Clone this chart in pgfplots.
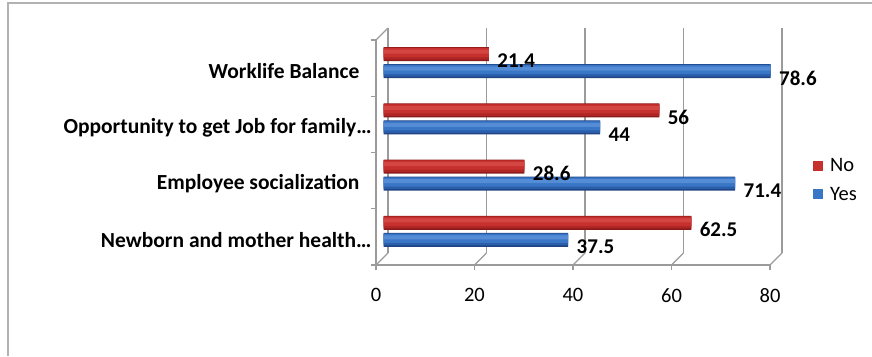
\documentclass[border=0pt]{standalone}
\usepackage{fontspec}
\setmainfont{Carlito}
\usepackage{pgfplots}
\usepackage{pgfplotstable}
\pgfplotsset{compat=1.18}
\definecolor{redA}{RGB}{140,26,26}
\definecolor{redB}{RGB}{175,38,36}
\definecolor{redC}{RGB}{198,48,45}
\definecolor{redD}{RGB}{212,70,65}
\definecolor{bluA}{RGB}{30,68,132}
\definecolor{bluB}{RGB}{42,94,170}
\definecolor{bluC}{RGB}{58,118,198}
\definecolor{bluD}{RGB}{84,140,214}
\definecolor{gridgray}{RGB}{155,155,155}
\pgfplotstableread{
y val
0 62.5
1 28.6
2 56
3 21.4
}\nodata
\pgfplotstableread{
y val
0 37.5
1 71.4
2 44
3 78.6
}\yesdata
\begin{document}
\begin{tikzpicture}[font=\fontsize{20.5}{24}\selectfont]
\useasboundingbox (-376pt,-91pt) rectangle (496pt,265pt);
\draw[gray!60, line width=1.5pt] (-368pt,-91pt) -- (-368pt,262pt) -- (496pt,262pt);
% back wall
\begin{axis}[at={(12pt,12pt)}, anchor=south west, scale only axis,
  width=394pt, height=225pt, xmin=0, xmax=80, ymin=-0.5, ymax=3.5,
  axis line style={draw=none}, xtick={0,20,40,60,80}, xticklabels={},
  ytick=\empty, major tick length=0pt, xmajorgrids,
  major grid style={gridgray, line width=1.3pt}]
\addplot[draw=none] coordinates {(0,0)};
\end{axis}
% front frame
\begin{axis}[at={(0pt,0pt)}, anchor=south west, scale only axis,
  width=394pt, height=225pt, xmin=0, xmax=80, ymin=-0.5, ymax=3.5,
  axis x line*=bottom, axis y line*=left,
  axis line style={gridgray, line width=1.3pt, -},
  tick style={gridgray, line width=1.3pt}, tick align=outside,
  major tick length=5pt,
  xtick={0,20,40,60,80},
  xticklabel style={yshift=-15pt},
  ytick={-0.5,0.5,1.5,2.5,3.5}, yticklabels={},
  extra y ticks={0,1,2,3},
  extra y tick labels={Newborn and mother health…\kern-12pt, Employee socialization, Opportunity to get Job for family…\kern-12pt, Worklife Balance},
  extra y tick style={major tick length=0pt, yticklabel style={font=\fontsize{21.5}{24}\selectfont\bfseries, xshift=-13pt, yshift=-3pt}},
  /pgf/number format/assume math mode=true, clip=false]
\addplot[draw=none] coordinates {(0,0)};
\pgfplotsinvokeforeach{0,20,40,60,80}{\draw[gridgray, line width=1.3pt] (axis cs:#1,-0.5) -- ++(12pt,12pt);}
\draw[gridgray, line width=1.3pt] (axis cs:0,3.5) -- ++(12pt,12pt);
\end{axis}
% bars
\begin{axis}[at={(7.5pt,0pt)}, anchor=south west, scale only axis,
  width=394pt, height=225pt, xmin=0, xmax=80, ymin=-0.5, ymax=3.5,
  hide axis, clip=false, xbar,
  nodes near coords style={font=\fontsize{21}{24}\selectfont\bfseries, anchor=west, xshift=5pt, yshift=-7pt},
  /pgf/number format/assume math mode=true,
  legend style={at={(axis description cs:1.09,0.378)}, anchor=west, draw=none, fill=none,
    inner sep=0pt, row sep=10pt, column sep=5pt, font=\fontsize{20.5}{24}\selectfont},
  legend cell align=left]
% No series (layers)
\addplot[draw=none, fill=redA, bar width=14pt, bar shift=14pt, nodes near coords, forget plot] table[x=val, y=y] {\nodata};
\addplot[draw=none, fill=redB, bar width=12pt, bar shift=14.5pt, forget plot] table[x=val, y=y] {\nodata};
\addplot[draw=none, fill=redC, bar width=9pt, bar shift=15.5pt,
  legend image code/.code={\fill[redC] (0pt,-5pt) rectangle (10pt,5pt);}] table[x=val, y=y] {\nodata};
\addplot[draw=none, fill=redD, bar width=4pt, bar shift=16.5pt, forget plot] table[x=val, y=y] {\nodata};
% Yes series (layers)
\addplot[draw=none, fill=bluA, bar width=14pt, bar shift=-3pt, nodes near coords, forget plot] table[x=val, y=y] {\yesdata};
\addplot[draw=none, fill=bluB, bar width=12pt, bar shift=-2.5pt, forget plot] table[x=val, y=y] {\yesdata};
\addplot[draw=none, fill=bluC, bar width=9pt, bar shift=-1.5pt,
  legend image code/.code={\fill[bluC] (0pt,-5pt) rectangle (10pt,5pt);}] table[x=val, y=y] {\yesdata};
\addplot[draw=none, fill=bluD, bar width=4pt, bar shift=-0.5pt, forget plot] table[x=val, y=y] {\yesdata};
\legend{No, Yes}
\end{axis}
\end{tikzpicture}
\end{document}
